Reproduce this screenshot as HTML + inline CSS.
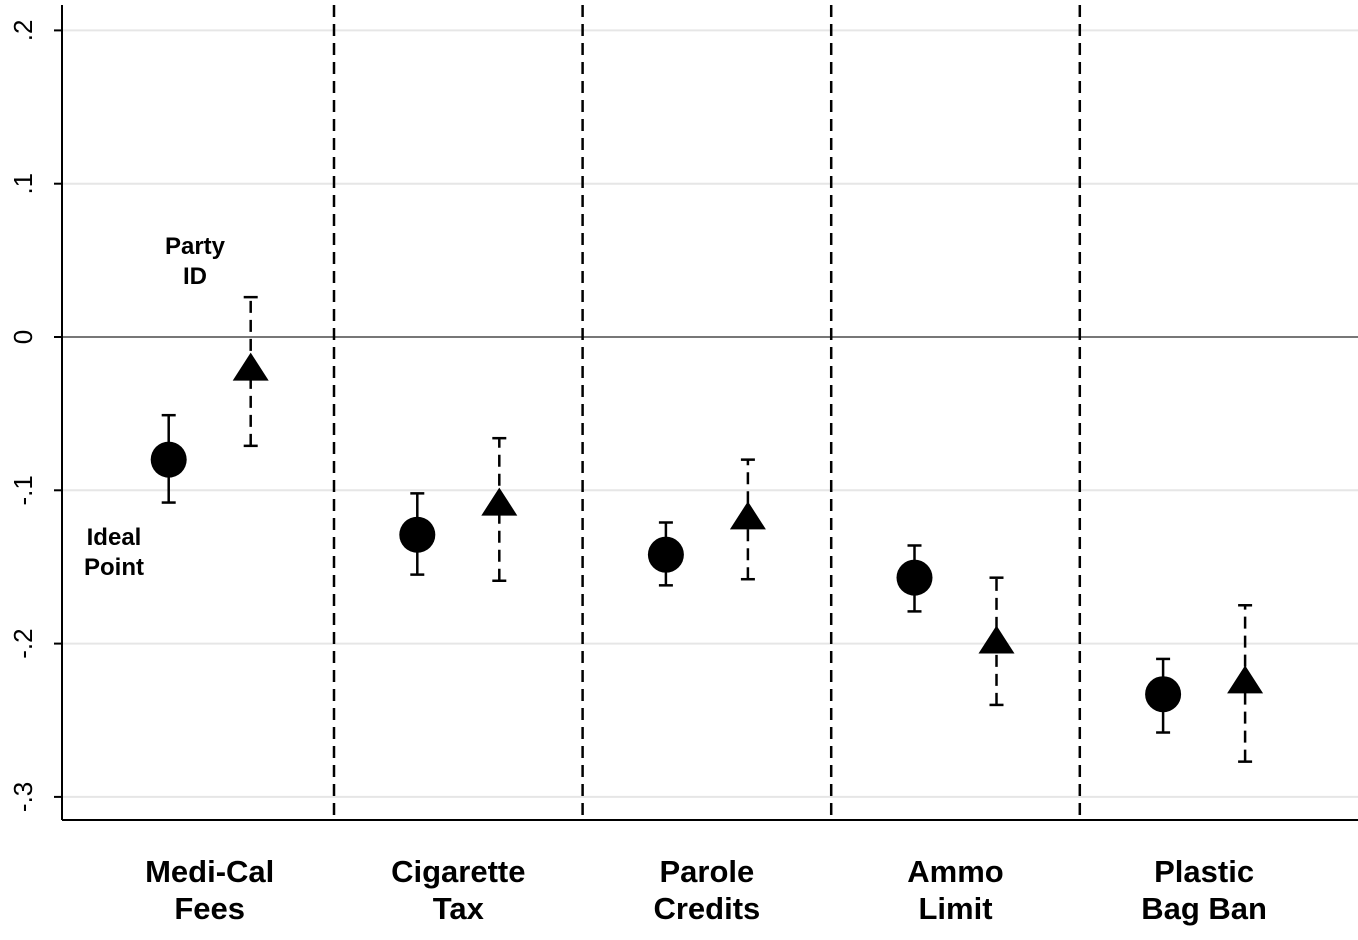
<!DOCTYPE html>
<html><head><meta charset="utf-8"><style>
body{margin:0;background:#fff;}
svg text{font-family:"Liberation Sans",Arial,sans-serif;}
</style></head><body>
<svg id="chart" width="1358" height="935" xmlns="http://www.w3.org/2000/svg">
<g id="grid"></g>
<g id="axes"></g>
<g id="marks"></g>
<text x="195" y="254" font-size="24" font-weight="bold" text-anchor="middle">Party</text>
<text x="195" y="284" font-size="24" font-weight="bold" text-anchor="middle">ID</text>
<text x="114" y="545" font-size="24" font-weight="bold" text-anchor="middle">Ideal</text>
<text x="114" y="575" font-size="24" font-weight="bold" text-anchor="middle">Point</text>
</svg>
<script>
const categories=[["Medi-Cal","Fees"],["Cigarette","Tax"],["Parole","Credits"],["Ammo","Limit"],["Plastic","Bag Ban"]];
const idealVals=[-0.080,-0.129,-0.142,-0.157,-0.233];
const idealLo=[-0.108,-0.155,-0.162,-0.179,-0.258];
const idealHi=[-0.051,-0.102,-0.121,-0.136,-0.210];
const partyVals=[-0.020,-0.108,-0.117,-0.198,-0.224];
const partyLo=[-0.071,-0.159,-0.158,-0.240,-0.277];
const partyHi=[0.026,-0.066,-0.080,-0.157,-0.175];
const yTicks=[0.2,0.1,0,-0.1,-0.2,-0.3];
const yTickLabs=[".2",".1","0","-.1","-.2","-.3"];

const NS="http://www.w3.org/2000/svg";
const L=62,R=1358,B=820,groupW=248.6,X0=85.4;
const y=v=>337-v*1533;
const xc=(i,off)=>X0+(i+0.5)*groupW+off;
function mk(p,t,a){const e=document.createElementNS(NS,t);for(const k in a)e.setAttribute(k,a[k]);p.appendChild(e);return e;}
const G=document.getElementById('grid'),A=document.getElementById('axes'),M=document.getElementById('marks');
yTicks.forEach((t,i)=>{
 const l=mk(G,'line',{x1:L,x2:R,y1:y(t),y2:y(t),stroke:t===0?'#777':'#e6e6e6','stroke-width':2});
 
 
 mk(A,'line',{x1:L-8,x2:L,y1:y(t),y2:y(t),stroke:'#000','stroke-width':2});
 const tx=mk(A,'text',{x:0,y:0,'font-size':26,'text-anchor':'middle',transform:`translate(32,${y(t)}) rotate(-90)`});
 tx.textContent=yTickLabs[i];
 
 
});
mk(A,'line',{x1:L,x2:L,y1:5,y2:B,stroke:'#000','stroke-width':2});
mk(A,'line',{x1:L,x2:R,y1:B,y2:B,stroke:'#000','stroke-width':2});
for(let i=1;i<categories.length;i++){
 const d=mk(A,'line',{x1:X0+i*groupW,x2:X0+i*groupW,y1:5,y2:B,stroke:'#000','stroke-width':2.5,'stroke-dasharray':'12,7'});
 
 
}
categories.forEach((c,i)=>{
 c.forEach((s,j)=>{const t=mk(A,'text',{x:xc(i,0),y:882+j*37,'font-size':31,'font-weight':'bold','text-anchor':'middle'});t.textContent=s;
 
 });
 const x1=xc(i,-41),x2=xc(i,41);
 mk(M,'line',{x1:x1,x2:x1,y1:y(idealLo[i]),y2:y(idealHi[i]),stroke:'#000','stroke-width':2.5});
 mk(M,'line',{x1:x1-7,x2:x1+7,y1:y(idealLo[i]),y2:y(idealLo[i]),stroke:'#000','stroke-width':2.5});
 mk(M,'line',{x1:x1-7,x2:x1+7,y1:y(idealHi[i]),y2:y(idealHi[i]),stroke:'#000','stroke-width':2.5});
 const c1=mk(M,'circle',{cx:x1,cy:y(idealVals[i]),r:18,fill:'#000'});
 
 
 mk(M,'line',{x1:x2,x2:x2,y1:y(partyLo[i]),y2:y(partyHi[i]),stroke:'#000','stroke-width':2.5,'stroke-dasharray':'12,7'});
 mk(M,'line',{x1:x2-7,x2:x2+7,y1:y(partyLo[i]),y2:y(partyLo[i]),stroke:'#000','stroke-width':2.5});
 mk(M,'line',{x1:x2-7,x2:x2+7,y1:y(partyHi[i]),y2:y(partyHi[i]),stroke:'#000','stroke-width':2.5});
 const py=y(partyVals[i]);
 const tr=mk(M,'polygon',{points:`${x2},${py-15} ${x2-18},${py+13} ${x2+18},${py+13}`,fill:'#000'});
 
 
});
</script>
</body></html>
